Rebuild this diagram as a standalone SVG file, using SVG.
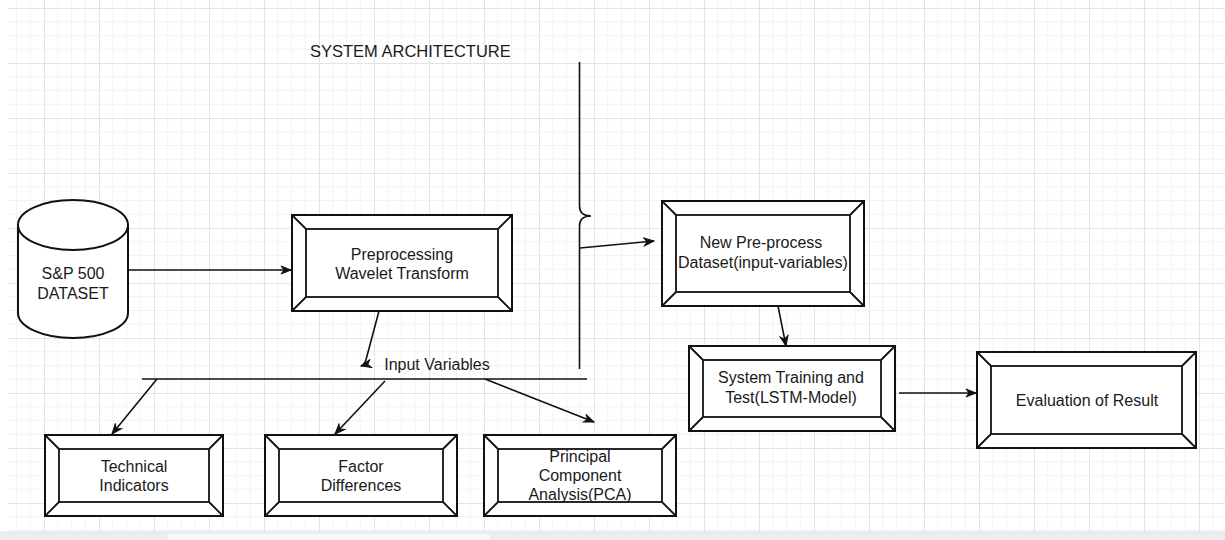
<svg xmlns="http://www.w3.org/2000/svg" width="1225" height="540" viewBox="0 0 1225 540">
  <style>
    .lbl { font-family: "Liberation Sans", Arial, sans-serif; font-size: 16px; fill: #1a1a1a; text-anchor: middle; }
    .title { font-family: "Liberation Sans", Arial, sans-serif; font-size: 16.5px; fill: #1a1a1a; }
    .shape { fill: #ffffff; stroke: #111111; stroke-width: 2; }
    .bevel { fill: none; stroke: #111111; stroke-width: 1.8; }
    .edge { fill: none; stroke: #111111; stroke-width: 1.6; }
  </style>
  <defs>
    <!-- editor grid: 55px major cells split into four minor cells -->
    <pattern id="grid" width="55" height="55" patternUnits="userSpaceOnUse" x="44" y="8">
      <path d="M13.75,0 V55 M27.5,0 V55 M41.25,0 V55 M0,13.75 H55 M0,27.5 H55 M0,41.25 H55" stroke="#f3f3f3" stroke-width="1" fill="none"/>
      <path d="M0.5,0 V55 M0,0.5 H55" stroke="#e4e4e4" stroke-width="1" fill="none"/>
    </pattern>
    <marker id="arrow" viewBox="0 0 12 10" markerWidth="12" markerHeight="10" refX="11" refY="5" orient="auto" markerUnits="userSpaceOnUse">
      <path d="M1,1 L11,5 L1,9 L4,5 z" fill="#111111" stroke="#111111" stroke-width="1"/>
    </marker>
  </defs>

  <!-- canvas -->
  <rect x="0" y="0" width="1225" height="540" fill="#ffffff"/>
  <rect x="8" y="0" width="1217" height="531" fill="url(#grid)"/>
  <rect x="0" y="531" width="1225" height="9" fill="#ececec"/>
  <rect x="168" y="534" width="322" height="6" rx="3" fill="#fafafa"/>

  <text class="title" x="310" y="57">SYSTEM ARCHITECTURE</text>

  <!-- connectors -->
  <g id="connectors">
    <path class="edge" d="M128,270 L291,270" marker-end="url(#arrow)"/>
    <path class="edge" d="M379,311 L367,356 Q365,365 361,366" marker-end="url(#arrow)"/>
    <!-- curly bracket gathering the input variables -->
    <path class="edge" d="M579.5,62 V206 Q579.5,216 591,216 Q579.5,216 579.5,226 V369"/>
    <path class="edge" d="M580,248 L654,241" marker-end="url(#arrow)"/>
    <path class="edge" d="M142,379 L587,379"/>
    <path class="edge" d="M157,379 L112,434" marker-end="url(#arrow)"/>
    <path class="edge" d="M385,381 L335,434" marker-end="url(#arrow)"/>
    <path class="edge" d="M485,379 L594,422" marker-end="url(#arrow)"/>
    <path class="edge" d="M778,306 L786,346" marker-end="url(#arrow)"/>
    <path class="edge" d="M899,393 L976,393" marker-end="url(#arrow)"/>
  </g>

  <text class="lbl" x="437" y="370">Input Variables</text>

  <!-- data store -->
  <g id="dataset">
    <path class="shape" d="M18,225 A55,25 0 0 1 128,225 V313 A55,25 0 0 1 18,313 Z"/>
    <path class="shape" d="M18,225 A55,25 0 0 0 128,225" fill="none"/>
    <text class="lbl" x="73" y="279">S&amp;P 500</text>
    <text class="lbl" x="73" y="299">DATASET</text>
  </g>

  <g id="preprocessing">
    <rect class="shape" x="292" y="215" width="220" height="96"/>
    <rect class="bevel" x="306" y="229" width="192" height="68"/>
    <path class="bevel" d="M292,215 L306,229 M512,215 L498,229 M292,311 L306,297 M512,311 L498,297"/>
    <text class="lbl" x="402" y="260">Preprocessing</text>
    <text class="lbl" x="402" y="279">Wavelet Transform</text>
  </g>

  <g id="new-dataset">
    <rect class="shape" x="662" y="201" width="202" height="105"/>
    <rect class="bevel" x="676" y="215" width="174" height="77"/>
    <path class="bevel" d="M662,201 L676,215 M864,201 L850,215 M662,306 L676,292 M864,306 L850,292"/>
    <text class="lbl" x="761" y="248">New Pre-process</text>
    <text class="lbl" x="763" y="268">Dataset(input-variables)</text>
  </g>

  <g id="training">
    <rect class="shape" x="689" y="346" width="206" height="85"/>
    <rect class="bevel" x="703" y="360" width="178" height="57"/>
    <path class="bevel" d="M689,346 L703,360 M895,346 L881,360 M689,431 L703,417 M895,431 L881,417"/>
    <text class="lbl" x="791" y="383">System Training and</text>
    <text class="lbl" x="791" y="403">Test(LSTM-Model)</text>
  </g>

  <g id="evaluation">
    <rect class="shape" x="977" y="352" width="219" height="96"/>
    <rect class="bevel" x="991" y="366" width="191" height="68"/>
    <path class="bevel" d="M977,352 L991,366 M1196,352 L1182,366 M977,448 L991,434 M1196,448 L1182,434"/>
    <text class="lbl" x="1087" y="406">Evaluation of Result</text>
  </g>

  <g id="technical-indicators">
    <rect class="shape" x="45" y="435" width="178" height="81"/>
    <rect class="bevel" x="59" y="449" width="150" height="53"/>
    <path class="bevel" d="M45,435 L59,449 M223,435 L209,449 M45,516 L59,502 M223,516 L209,502"/>
    <text class="lbl" x="134" y="472">Technical</text>
    <text class="lbl" x="134" y="491">Indicators</text>
  </g>

  <g id="factor-differences">
    <rect class="shape" x="265" y="435" width="192" height="81"/>
    <rect class="bevel" x="279" y="449" width="164" height="53"/>
    <path class="bevel" d="M265,435 L279,449 M457,435 L443,449 M265,516 L279,502 M457,516 L443,502"/>
    <text class="lbl" x="361" y="472">Factor</text>
    <text class="lbl" x="361" y="491">Differences</text>
  </g>

  <g id="pca">
    <rect class="shape" x="484" y="435" width="192" height="81"/>
    <rect class="bevel" x="498" y="449" width="164" height="53"/>
    <path class="bevel" d="M484,435 L498,449 M676,435 L662,449 M484,516 L498,502 M676,516 L662,502"/>
    <text class="lbl" x="580" y="462">Principal</text>
    <text class="lbl" x="580" y="481">Component</text>
    <text class="lbl" x="580" y="500">Analysis(PCA)</text>
  </g>
</svg>
